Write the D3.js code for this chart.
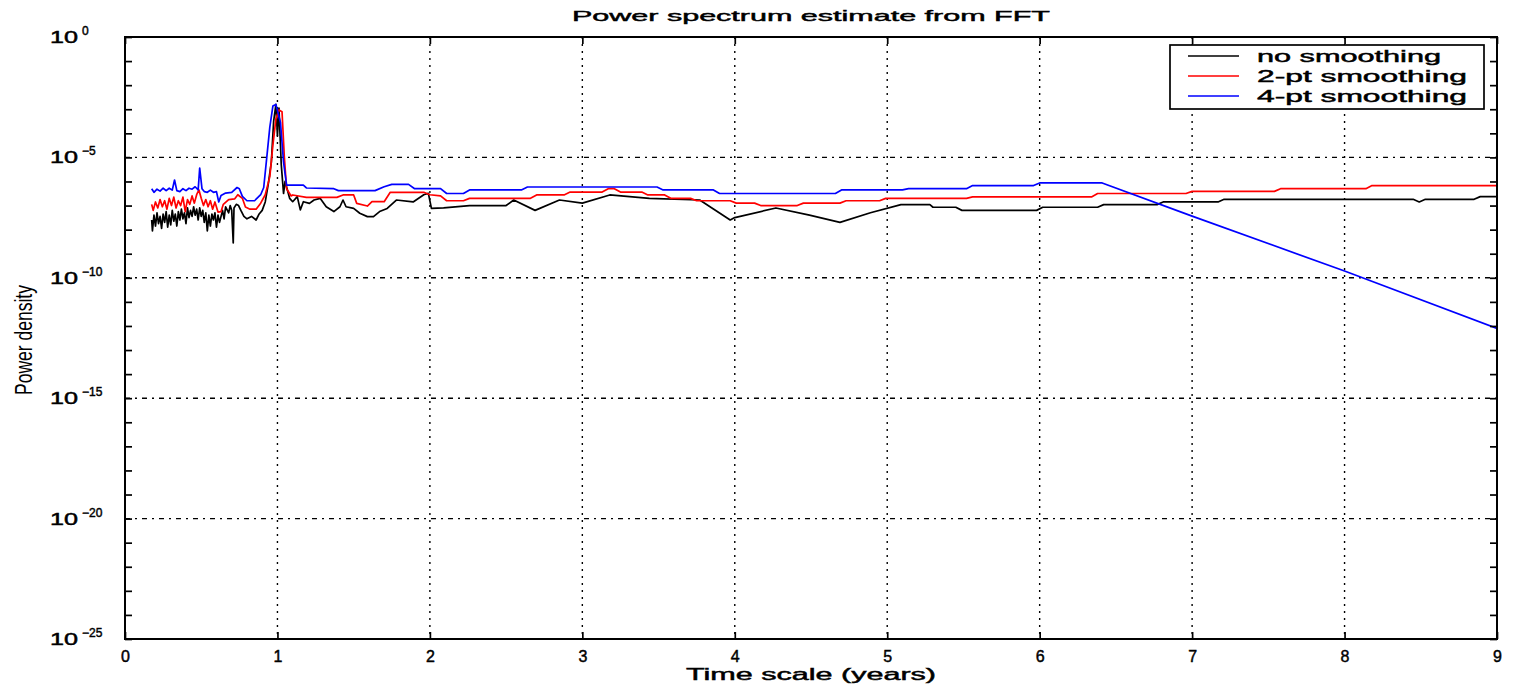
<!DOCTYPE html>
<html lang="en">
<head>
<meta charset="utf-8">
<title>Power spectrum estimate from FFT</title>
<script src="https://d3js.org/d3.v7.min.js"></script>
<style>
  body { margin: 0; background: #fff; }
  text { font-family: "Liberation Sans", Arial, sans-serif; fill: #000; }
  .heavy { stroke: #000; stroke-width: 0.45px; }
</style>
</head>
<body>
<script>
// size of the page and the plot box
var w = 1516, h = 685;
var margin = {top: 37, right: 19, bottom: 46, left: 125};
var innerWidth = w - margin.left - margin.right;
var innerHeight = h - margin.top - margin.bottom;

// ticks
var xTickValues = [0, 1, 2, 3, 4, 5, 6, 7, 8, 9];
var yDecades = [0, -1, -2, -3, -4, -5, -6, -7, -8, -9, -10, -11, -12, -13, -14, -15,
                -16, -17, -18, -19, -20, -21, -22, -23, -24, -25];
var yLabelExps = [0, -5, -10, -15, -20, -25];

// legend
var seriesNames = ["no smoothing", "2-pt smoothing", "4-pt smoothing"];
var seriesColors = ["#000000", "#ff0000", "#0000ff"];

// data: [time scale (years), log10 of power density]
var noSmoothing = [
  [0.175,-7.60],[0.18,-8.05],[0.19,-7.40],[0.20,-7.85],[0.21,-7.30],[0.22,-7.75],[0.23,-7.45],
  [0.24,-7.95],[0.25,-7.35],[0.26,-7.70],[0.27,-7.25],[0.28,-7.90],[0.29,-7.40],[0.30,-7.80],
  [0.31,-7.20],[0.32,-7.65],[0.33,-7.35],[0.34,-7.85],[0.35,-7.25],[0.36,-7.60],[0.37,-7.15],
  [0.38,-7.55],[0.39,-7.30],[0.40,-7.75],[0.41,-7.10],[0.42,-7.50],[0.43,-7.20],[0.44,-7.45],
  [0.45,-7.05],[0.46,-7.40],[0.47,-7.15],[0.48,-7.60],[0.49,-7.10],[0.50,-7.45],[0.51,-7.20],
  [0.52,-7.70],[0.53,-7.30],[0.54,-8.05],[0.55,-7.40],[0.56,-7.85],[0.57,-7.35],[0.58,-7.60],
  [0.59,-7.30],[0.60,-7.90],[0.61,-7.40],[0.62,-7.70],[0.64,-7.20],[0.65,-7.55],[0.66,-7.05],
  [0.68,-7.30],[0.69,-7.00],[0.70,-7.20],[0.71,-8.55],[0.715,-7.10],[0.73,-6.95],[0.745,-7.00],
  [0.76,-7.20],[0.78,-7.45],[0.80,-7.55],[0.83,-7.45],[0.86,-7.60],[0.88,-7.35],[0.90,-7.20],
  [0.92,-6.85],[0.94,-6.10],[0.96,-5.20],[0.975,-3.50],[0.99,-2.80],[1.00,-4.10],[1.01,-2.95],
  [1.025,-5.30],[1.04,-6.50],[1.05,-6.00],[1.08,-6.70],[1.10,-6.84],[1.13,-6.63],[1.15,-7.18],
  [1.17,-6.84],[1.21,-6.91],[1.24,-6.77],[1.28,-6.70],[1.32,-7.05],[1.37,-7.25],[1.41,-7.05],
  [1.43,-6.77],[1.45,-7.05],[1.50,-7.12],[1.54,-7.32],[1.59,-7.46],[1.63,-7.46],[1.67,-7.25],
  [1.72,-7.12],[1.78,-6.77],[1.89,-6.85],[1.96,-6.55],[1.99,-6.49],[2.01,-7.12],[2.09,-7.10],
  [2.26,-7.00],[2.50,-7.00],[2.55,-6.77],[2.69,-7.20],[2.85,-6.77],[3.00,-6.90],[3.18,-6.56],
  [3.44,-6.70],[3.77,-6.77],[3.97,-7.60],[4.00,-7.50],[4.27,-7.10],[4.49,-7.40],[4.69,-7.70],
  [4.89,-7.30],[5.09,-6.96],[5.28,-6.96],[5.30,-7.07],[5.45,-7.07],[5.49,-7.20],[5.98,-7.20],
  [6.02,-7.07],[6.38,-7.07],[6.42,-6.96],[6.77,-6.96],[6.81,-6.85],[7.17,-6.85],[7.21,-6.74],
  [8.45,-6.74],[8.49,-6.85],[8.53,-6.74],[8.85,-6.74],[8.89,-6.63],[9.00,-6.63]
];

var twoPoint = [
  [0.175,-6.95],[0.185,-7.20],[0.20,-6.85],[0.215,-7.10],[0.23,-6.75],[0.245,-7.05],[0.26,-6.80],
  [0.275,-7.15],[0.29,-6.70],[0.305,-7.00],[0.32,-6.65],[0.335,-7.10],[0.35,-6.80],[0.365,-7.00],
  [0.38,-6.65],[0.395,-7.25],[0.41,-6.75],[0.425,-6.95],[0.44,-6.60],[0.455,-6.90],[0.47,-6.55],
  [0.485,-6.35],[0.50,-6.70],[0.515,-7.00],[0.53,-6.75],[0.545,-7.05],[0.56,-6.80],[0.575,-7.15],
  [0.59,-6.85],[0.61,-7.27],[0.63,-7.25],[0.645,-6.95],[0.68,-6.75],[0.72,-6.72],[0.74,-6.55],
  [0.77,-6.70],[0.79,-7.06],[0.82,-7.15],[0.86,-7.15],[0.89,-6.90],[0.92,-6.55],[0.95,-5.80],
  [0.97,-4.50],[0.99,-3.40],[1.01,-3.03],[1.03,-3.10],[1.045,-4.96],[1.06,-6.30],[1.09,-6.60],
  [1.10,-6.56],[1.19,-6.66],[1.39,-6.66],[1.43,-6.56],[1.50,-6.56],[1.52,-6.91],[1.59,-7.02],
  [1.62,-6.84],[1.70,-6.84],[1.74,-6.45],[1.96,-6.45],[2.00,-6.55],[2.07,-6.60],[2.11,-6.80],
  [2.22,-6.80],[2.26,-6.70],[2.66,-6.70],[2.70,-6.56],[2.88,-6.56],[2.92,-6.44],[3.13,-6.44],
  [3.17,-6.30],[3.21,-6.30],[3.25,-6.44],[3.39,-6.44],[3.43,-6.56],[3.54,-6.56],[3.58,-6.70],
  [3.71,-6.70],[3.75,-6.80],[3.97,-6.80],[4.01,-6.90],[4.13,-6.90],[4.17,-7.00],[4.41,-7.00],
  [4.45,-6.90],[4.69,-6.90],[4.73,-6.80],[4.95,-6.80],[4.99,-6.70],[5.52,-6.70],[5.56,-6.64],
  [6.34,-6.64],[6.38,-6.50],[6.96,-6.50],[7.00,-6.41],[7.54,-6.41],[7.58,-6.30],[8.14,-6.30],
  [8.18,-6.17],[9.00,-6.17]
];

var fourPoint = [
  [0.175,-6.30],[0.19,-6.45],[0.21,-6.32],[0.23,-6.40],[0.25,-6.28],[0.27,-6.38],[0.29,-6.28],
  [0.31,-6.36],[0.325,-5.94],[0.34,-6.38],[0.36,-6.42],[0.38,-6.30],[0.40,-6.38],[0.42,-6.28],
  [0.44,-6.32],[0.46,-6.22],[0.48,-6.35],[0.49,-5.44],[0.505,-6.30],[0.52,-6.42],[0.54,-6.45],
  [0.56,-6.36],[0.58,-6.45],[0.60,-6.42],[0.615,-6.85],[0.63,-6.58],[0.66,-6.48],[0.70,-6.45],
  [0.735,-6.25],[0.75,-6.30],[0.77,-6.62],[0.80,-6.80],[0.85,-6.80],[0.89,-6.55],[0.91,-6.25],
  [0.93,-5.00],[0.95,-3.74],[0.97,-2.87],[0.99,-2.80],[1.02,-3.55],[1.04,-5.20],[1.06,-6.15],
  [1.17,-6.15],[1.19,-6.27],[1.37,-6.30],[1.40,-6.38],[1.64,-6.38],[1.70,-6.22],[1.75,-6.12],
  [1.86,-6.12],[1.90,-6.30],[2.07,-6.30],[2.11,-6.50],[2.22,-6.50],[2.26,-6.35],[2.60,-6.35],
  [2.64,-6.23],[3.49,-6.23],[3.53,-6.35],[3.86,-6.35],[3.90,-6.50],[4.66,-6.50],[4.70,-6.35],
  [5.10,-6.35],[5.14,-6.30],[5.52,-6.30],[5.56,-6.17],[5.96,-6.17],[6.00,-6.06],[6.41,-6.06],
  [7.00,-7.44],[8.00,-9.72],[9.00,-12.10]
];

var allSeries = [noSmoothing, twoPoint, fourPoint];

// scales
var xScale = d3.scaleLinear().domain([0, 9]).range([0, innerWidth]);
var yScale = d3.scaleLog().domain([1e-25, 1]).range([innerHeight, 0]);

var svg = d3.select("body").append("svg")
  .attr("width", w)
  .attr("height", h);

var chart = svg.append("g")
  .attr("transform", `translate(${margin.left},${margin.top})`);

// grid lines
chart.selectAll(".vgrid")
  .data(xTickValues.slice(1, -1)).enter().append("line")
  .attr("class", "vgrid")
  .attr("x1", d => xScale(d)).attr("x2", d => xScale(d))
  .attr("y1", 0).attr("y2", innerHeight)
  .attr("stroke", "#000").attr("stroke-width", 1.4)
  .attr("stroke-dasharray", "2,5");

chart.selectAll(".hgrid")
  .data(yLabelExps.slice(1, -1)).enter().append("line")
  .attr("class", "hgrid")
  .attr("x1", 0).attr("x2", innerWidth)
  .attr("y1", d => yScale(Math.pow(10, d))).attr("y2", d => yScale(Math.pow(10, d)))
  .attr("stroke", "#000").attr("stroke-width", 1.4)
  .attr("stroke-dasharray", "5,5,2,5");

// series
chart.append("clipPath").attr("id", "clip")
  .append("rect").attr("width", innerWidth).attr("height", innerHeight);

var line = d3.line()
  .x(d => xScale(d[0]))
  .y(d => yScale(Math.pow(10, d[1])));

chart.append("g").attr("clip-path", "url(#clip)")
  .selectAll("path")
  .data(allSeries).enter().append("path")
  .attr("d", line)
  .attr("fill", "none")
  .attr("stroke", (d, i) => seriesColors[i])
  .attr("stroke-width", 1.7)
  .attr("stroke-linejoin", "round");

// axes, ticks pointing inwards
var yTickVals = yDecades.map(e => Math.pow(10, e));

var xBottom = chart.append("g")
  .attr("transform", `translate(0,${innerHeight})`)
  .call(d3.axisBottom(xScale).tickValues(xTickValues).tickSizeInner(-7).tickSizeOuter(0).tickPadding(12));
var xTop = chart.append("g")
  .call(d3.axisTop(xScale).tickValues(xTickValues).tickSizeInner(-7).tickSizeOuter(0));
var yLeft = chart.append("g")
  .call(d3.axisLeft(yScale).tickValues(yTickVals).tickSizeInner(-7).tickSizeOuter(0));
var yRight = chart.append("g")
  .attr("transform", `translate(${innerWidth},0)`)
  .call(d3.axisRight(yScale).tickValues(yTickVals).tickSizeInner(-7).tickSizeOuter(0));

// only the bottom axis keeps its own labels
xTop.selectAll("text").remove();
yLeft.selectAll("text").remove();
yRight.selectAll("text").remove();
chart.selectAll(".domain").remove();
chart.selectAll(".tick line").attr("stroke", "#000").attr("stroke-width", 1.7);

xBottom.selectAll("text")
  .attr("class", "heavy")
  .attr("font-size", 16)
  .attr("font-family", "'Liberation Sans', Arial, sans-serif");

// y tick labels: "10" and a raised exponent
chart.selectAll(".ybase")
  .data(yLabelExps).enter().append("text")
  .attr("class", "ybase heavy")
  .attr("x", -75)
  .attr("y", d => yScale(Math.pow(10, d)) + 6)
  .attr("font-size", 16)
  .attr("textLength", 28).attr("lengthAdjust", "spacingAndGlyphs")
  .text("10");

chart.selectAll(".yexp")
  .data(yLabelExps).enter().append("text")
  .attr("class", "yexp heavy")
  .attr("x", -43)
  .attr("y", d => yScale(Math.pow(10, d)) - 2)
  .attr("font-size", 12)
  .text(d => d === 0 ? "0" : "\u2212" + (-d));

// plot box
chart.append("rect")
  .attr("width", innerWidth).attr("height", innerHeight)
  .attr("fill", "none").attr("stroke", "#000").attr("stroke-width", 2);

// titles
svg.append("text")
  .attr("class", "heavy")
  .attr("x", margin.left + innerWidth / 2).attr("y", 21)
  .attr("text-anchor", "middle").attr("font-size", 15)
  .attr("textLength", 478).attr("lengthAdjust", "spacingAndGlyphs")
  .text("Power spectrum estimate from FFT");

svg.append("text")
  .attr("class", "heavy")
  .attr("x", margin.left + innerWidth / 2).attr("y", 680)
  .attr("text-anchor", "middle").attr("font-size", 16)
  .attr("textLength", 250).attr("lengthAdjust", "spacingAndGlyphs")
  .text("Time scale (years)");

svg.append("text")
  .attr("transform", `translate(32,${340}) rotate(-90)`)
  .attr("text-anchor", "middle").attr("font-size", 23)
  .attr("textLength", 110).attr("lengthAdjust", "spacingAndGlyphs")
  .text("Power density");

// legend
var legend = svg.append("g").attr("transform", "translate(1170,45)");
legend.append("rect")
  .attr("width", 314).attr("height", 64)
  .attr("fill", "#fff").attr("stroke", "#000").attr("stroke-width", 1.7);

var item = legend.selectAll(".item")
  .data(seriesNames).enter().append("g")
  .attr("class", "item")
  .attr("transform", (d, i) => `translate(0,${11 + i * 20})`);
item.append("line")
  .attr("x1", 18).attr("x2", 69)
  .attr("stroke", (d, i) => seriesColors[i]).attr("stroke-width", 1.7);
item.append("text")
  .attr("class", "heavy")
  .attr("x", 87).attr("y", 6)
  .attr("font-size", 16)
  .attr("textLength", (d, i) => i === 0 ? 184 : 210).attr("lengthAdjust", "spacingAndGlyphs")
  .text(d => d);
</script>
</body>
</html>
